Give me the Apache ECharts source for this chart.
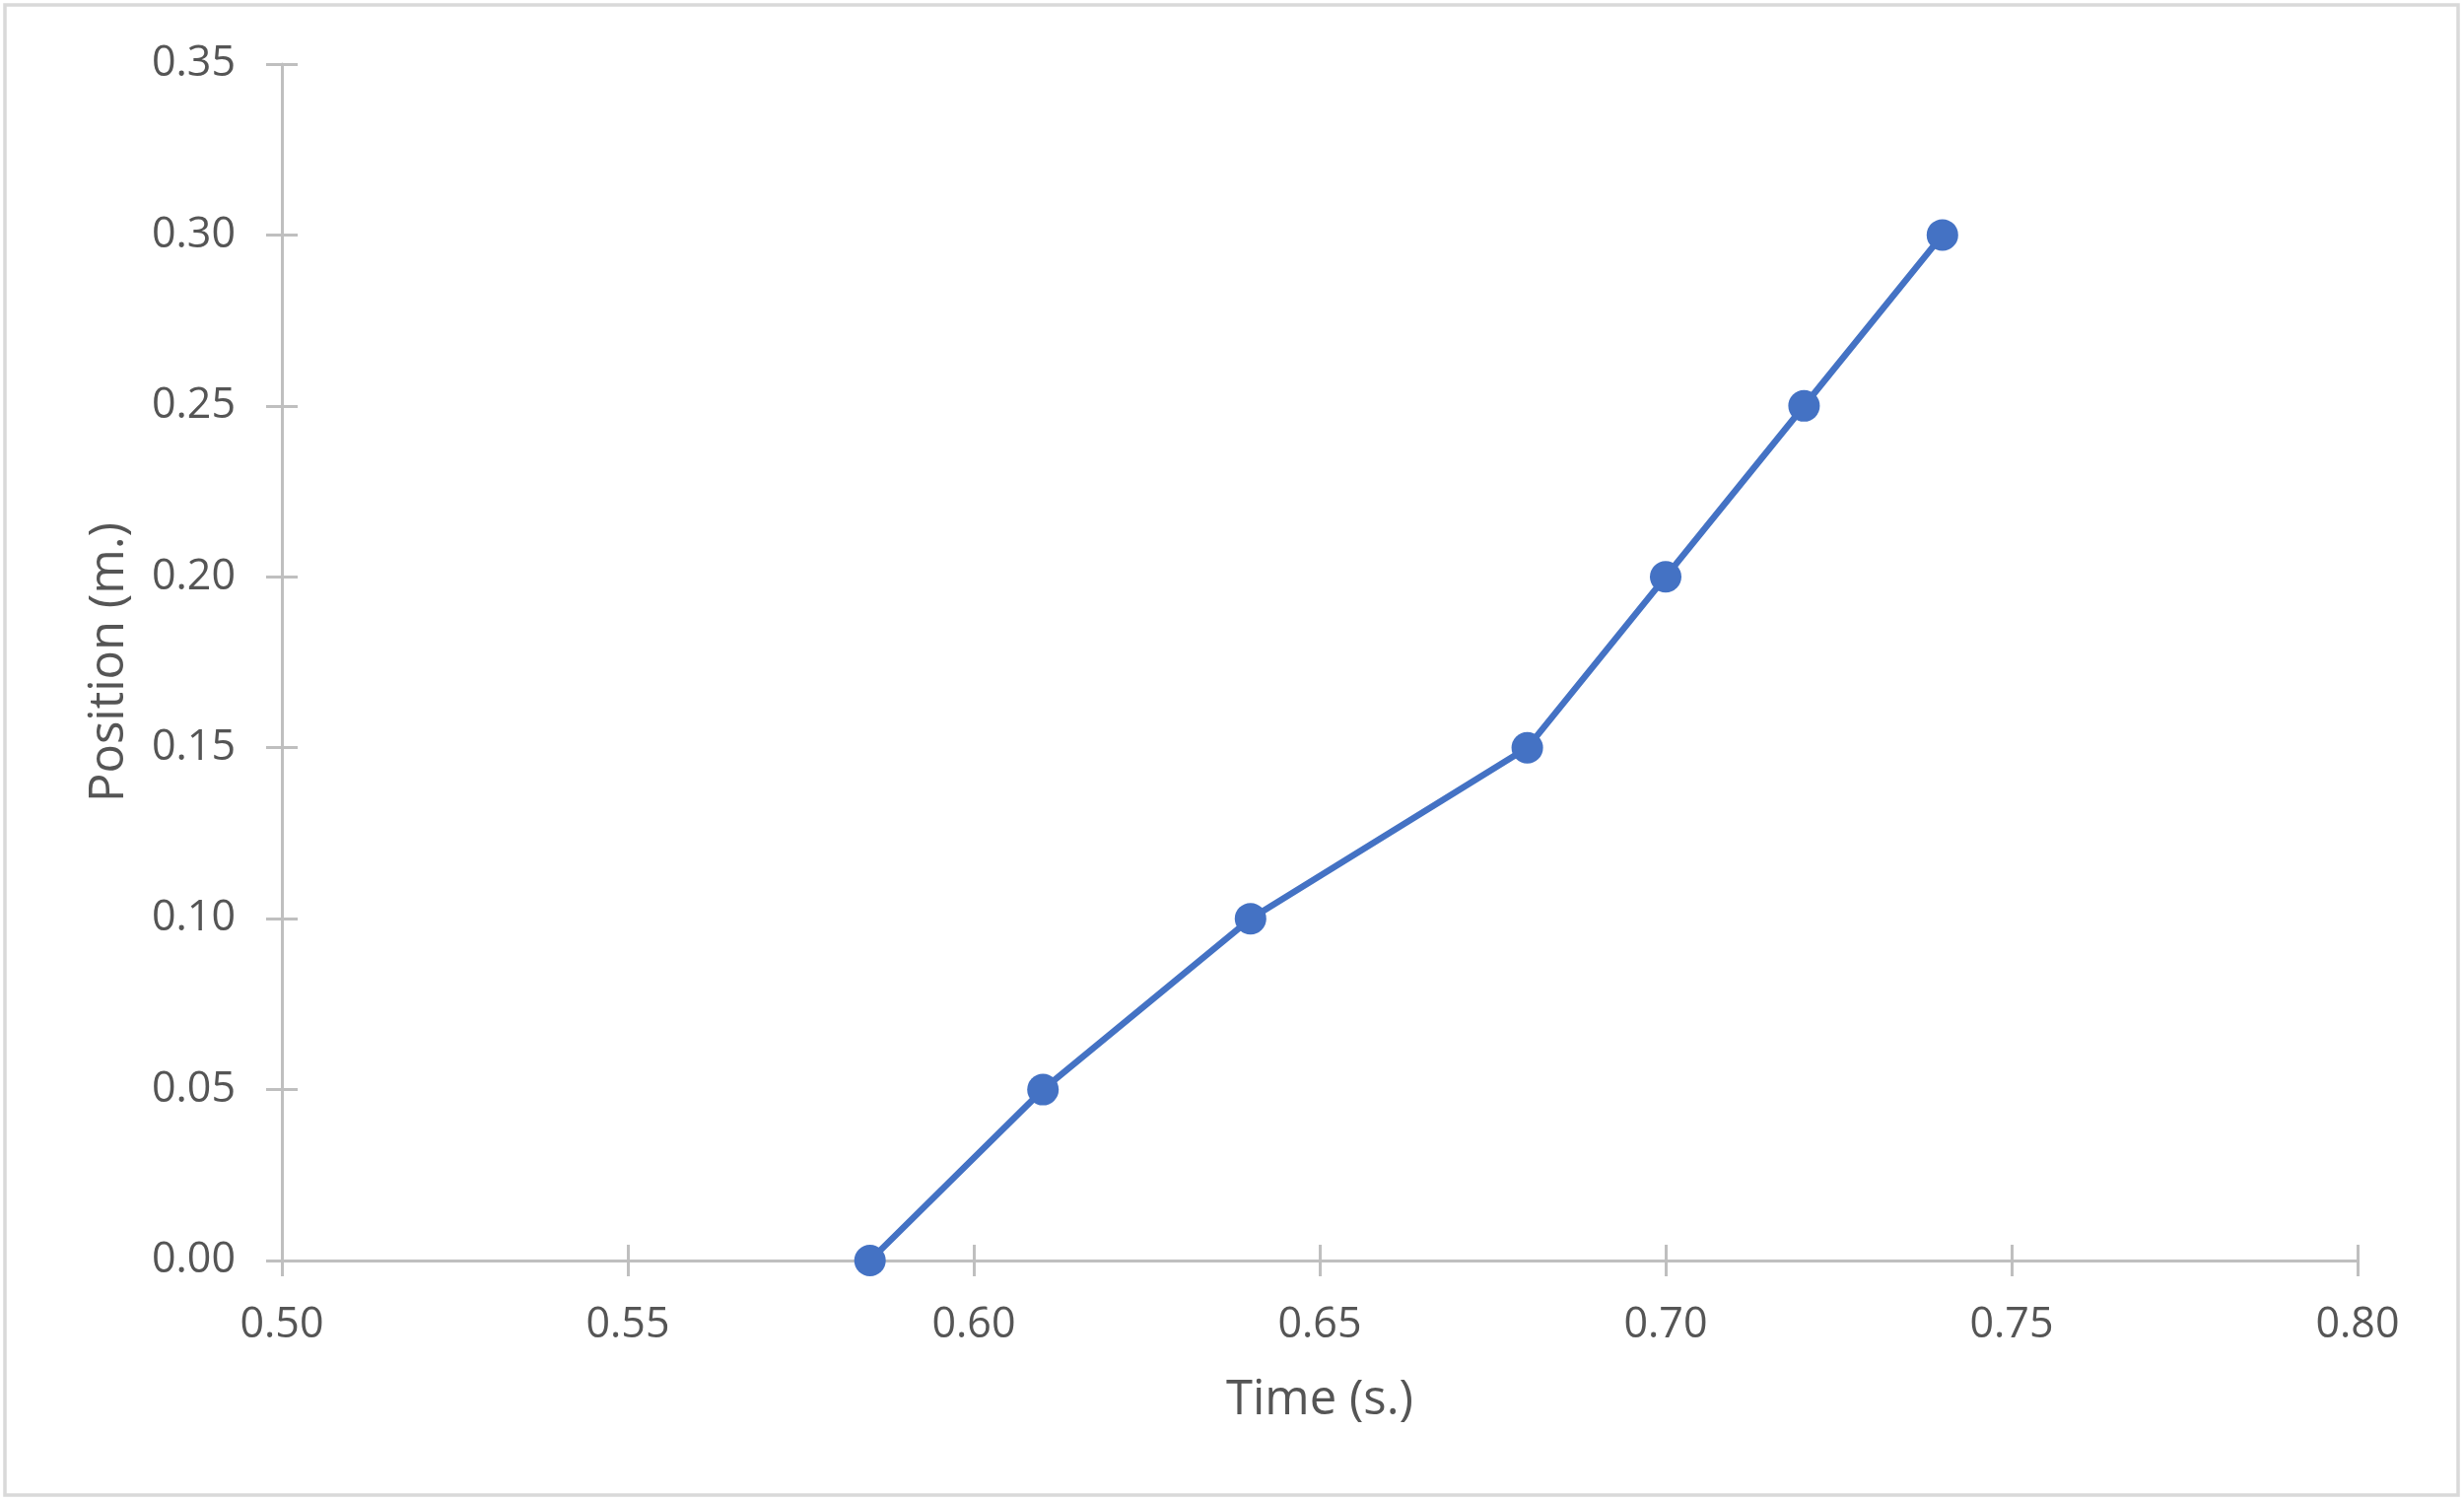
<!DOCTYPE html>
<html>
<head>
<meta charset="utf-8">
<script src="https://cdn.jsdelivr.net/npm/echarts@6/dist/echarts.min.js"></script>
<style>
html,body{margin:0;padding:0;background:#fff;}
#chart{width:2500px;height:1522px;}
</style>
</head>
<body>
<div id="chart"></div>
<script>
// Data
var timeValues = [0.585, 0.61, 0.64, 0.68, 0.70, 0.72, 0.74];
var positionValues = [0.00, 0.05, 0.10, 0.15, 0.20, 0.25, 0.30];
var xAxisTitle = 'Time (s.)';
var yAxisTitle = 'Position (m.)';
var xRange = [0.50, 0.80];
var yRange = [0.00, 0.35];
var tickStep = 0.05;

var points = timeValues.map(function (t, i) { return [t, positionValues[i]]; });

var FONT = 'Open Sans';
var TEXT = '#555555';
var AXIS = '#bfbfbf';

var chart = echarts.init(document.getElementById('chart'), null, {renderer: 'canvas'});

function fmt(v) { return v.toFixed(2); }

var common = {
  type: 'value',
  interval: tickStep,
  splitLine: {show: false}
};

chart.setOption({
  animation: false,
  backgroundColor: '#ffffff',
  graphic: [{
    type: 'rect',
    shape: {x: 5, y: 5, width: 2489, height: 1512},
    style: {fill: 'none', stroke: '#d9d9d9', lineWidth: 3.5},
    silent: true
  }],
  grid: {left: 286, right: 108, top: 65, bottom: 243, containLabel: false},
  xAxis: [
    Object.assign({}, common, {
      min: xRange[0], max: xRange[1],
      position: 'bottom',
      name: xAxisTitle,
      nameLocation: 'middle',
      nameGap: 118,
      nameTextStyle: {fontFamily: FONT, fontSize: 49, color: TEXT},
      axisLine: {show: true, onZero: false, lineStyle: {color: AXIS, width: 3}},
      axisTick: {show: true, inside: false, length: 16, lineStyle: {color: AXIS, width: 3}},
      axisLabel: {show: true, margin: 44, fontFamily: FONT, fontSize: 43, color: TEXT, formatter: fmt}
    }),
    Object.assign({}, common, {
      min: xRange[0], max: xRange[1],
      position: 'bottom',
      gridIndex: 0,
      axisLine: {show: false, onZero: false},
      axisTick: {show: true, inside: true, length: 16, lineStyle: {color: AXIS, width: 3}},
      axisLabel: {show: false}
    })
  ],
  yAxis: [
    Object.assign({}, common, {
      min: yRange[0], max: yRange[1],
      position: 'left',
      name: yAxisTitle,
      nameLocation: 'middle',
      nameGap: 150,
      nameTextStyle: {fontFamily: FONT, fontSize: 49, color: TEXT},
      axisLine: {show: true, onZero: false, lineStyle: {color: AXIS, width: 3}},
      axisTick: {show: true, inside: false, length: 16, lineStyle: {color: AXIS, width: 3}},
      axisLabel: {show: true, margin: 47, fontFamily: FONT, fontSize: 43, color: TEXT, formatter: fmt}
    }),
    Object.assign({}, common, {
      min: yRange[0], max: yRange[1],
      position: 'left',
      gridIndex: 0,
      axisLine: {show: false, onZero: false},
      axisTick: {show: true, inside: true, length: 16, lineStyle: {color: AXIS, width: 3}},
      axisLabel: {show: false}
    })
  ],
  series: [{
    type: 'line',
    xAxisIndex: 0,
    yAxisIndex: 0,
    data: points,
    symbol: 'circle',
    symbolSize: 32,
    showAllSymbol: true,
    lineStyle: {color: '#4472C4', width: 6.5},
    itemStyle: {color: '#4472C4', borderWidth: 0},
    z: 5
  }]
});
</script>
</body>
</html>
